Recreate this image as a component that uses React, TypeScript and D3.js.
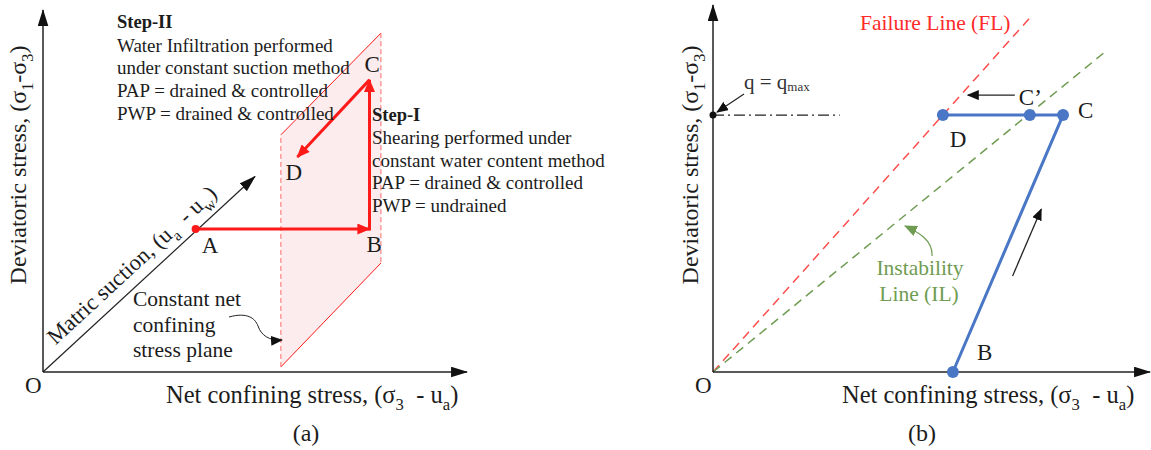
import React from 'react'
import * as d3 from 'd3'

// ---- panel (a): schematic stress path (axis units 0-100) ----
const pathA = [
  { name: 'A', x: 36, y: 39.5 },
  { name: 'B', x: 77, y: 39.5 },
  { name: 'C', x: 77, y: 80.7 },
  { name: 'D', x: 60, y: 59.4 },
]
const suctionAxisEnd = { x: 50, y: 54 }
const planeCorners = [
  { x: 56.1, y: 65.5 },
  { x: 79.7, y: 93.6 },
  { x: 79.7, y: 30.1 },
  { x: 56.1, y: 1.4 },
]
const stepII = ['Water Infiltration performed', 'under constant suction method', 'PAP = drained & controlled', 'PWP = drained & controlled']
const stepI = ['Shearing performed under', 'constant water content method', 'PAP = drained & controlled', 'PWP = undrained']
const planeNote = ['Constant net', 'confining', 'stress plane']

// ---- panel (b): failure / instability lines ----
const failureLineEnd = { x: 72.5, y: 96.5 }
const instabilityLineEnd = { x: 89.7, y: 87.2 }
const qMax = 70
const qMaxLineEnd = 29
const pathB = [
  { name: 'B', x: 54.9, y: 0 },
  { name: 'C', x: 80.1, y: 70 },
  { name: 'C’', x: 72.5, y: 70 },
  { name: 'D', x: 52.6, y: 70 },
]

// label pieces: [text, isSubscript]
const yLabel: [string, boolean][] = [['Deviatoric stress, (σ', false], ['1', true], ['-σ', false], ['3', true], [')', false]]
const xLabel: [string, boolean][] = [['Net confining stress, (σ', false], ['3', true], ['\u00a0 - u', false], ['a', true], [')', false]]
const suctionLabel: [string, boolean][] = [['Matric suction, (u', false], ['a', true], ['\u00a0 - u', false], ['w', true], [')', false]]

const FONT = '"Liberation Serif", "DejaVu Serif", serif'
const INK = '#1c1c1c'
const RED = '#ff1a1a'
const BLUE = '#4a76c6'
const GREEN = '#6f9c52'

const rich = (segs: [string, boolean][], size: number) => {
  const shift = size * 0.28
  let prev = false
  return segs.map(([t, sub], i) => {
    const dy = (sub ? shift : 0) - (prev ? shift : 0)
    prev = sub
    return (
      <tspan key={i} dy={dy} fontSize={sub ? size * 0.68 : size}>
        {t}
      </tspan>
    )
  })
}

export default function App() {
  const xa = d3.scaleLinear().domain([0, 100]).range([43, 467])
  const ya = d3.scaleLinear().domain([0, 100]).range([372, 10])
  const xb = d3.scaleLinear().domain([0, 100]).range([713, 1150])
  const yb = d3.scaleLinear().domain([0, 100]).range([372, 5])

  const [A, B, C, D] = pathA
  const plane = d3.line<{ x: number; y: number }>().x((d) => xa(d.x)).y((d) => ya(d.y))
  const diagAngle = (Math.atan2(ya(0) - ya(suctionAxisEnd.y), xa(suctionAxisEnd.x) - xa(0)) * 180) / Math.PI

  const [pB, pC, pC2, pD] = pathB
  const blueLine = d3.line<{ x: number; y: number }>().x((d) => xb(d.x)).y((d) => yb(d.y))

  // arrow drawn parallel to B-C, offset to the right
  const bx = xb(pB.x), by = yb(pB.y), cx = xb(pC.x), cy = yb(pC.y)
  const len = Math.hypot(cx - bx, cy - by)
  const ux = (cx - bx) / len, uy = (cy - by) / len
  const nx = -uy, ny = ux
  const off = 17
  const ar1 = { x: bx + ux * len * 0.4 + nx * off, y: by + uy * len * 0.4 + ny * off }
  const ar2 = { x: bx + ux * len * 0.66 + nx * off, y: by + uy * len * 0.66 + ny * off }

  const sAxis = 24
  const sX = 24.5
  const sPt = 23
  return (
    <svg width={1151} height={450} style={{ position: 'absolute', left: 0, top: 0, background: '#fff' }} fontFamily={FONT}>
      <defs>
        <marker id="axisHead" viewBox="0 0 16 10" refX={15} refY={5} markerWidth={17} markerHeight={11} orient="auto" markerUnits="userSpaceOnUse">
          <path d="M0,0 L16,5 L0,10 z" fill="#111" />
        </marker>
        <marker id="smallHead" viewBox="0 0 12 10" refX={11} refY={5} markerWidth={12} markerHeight={10} orient="auto" markerUnits="userSpaceOnUse">
          <path d="M0,0 L12,5 L0,10 z" fill="#111" />
        </marker>
        <marker id="redHead" viewBox="0 0 12 10" refX={11} refY={5} markerWidth={14} markerHeight={11} orient="auto" markerUnits="userSpaceOnUse">
          <path d="M0,0 L12,5 L0,10 z" fill={RED} />
        </marker>
        <marker id="greenHead" viewBox="0 0 12 10" refX={11} refY={5} markerWidth={13} markerHeight={11} orient="auto" markerUnits="userSpaceOnUse">
          <path d="M0,0 L12,5 L0,10 z" fill={GREEN} />
        </marker>
      </defs>

      {/* ================= panel (a) ================= */}
      <path d={plane(planeCorners) + 'Z'} fill="#fdeced" stroke="none" />
      <line x1={xa(planeCorners[0].x)} y1={ya(planeCorners[0].y)} x2={xa(planeCorners[1].x)} y2={ya(planeCorners[1].y)} stroke={RED} strokeWidth={1} />
      <line x1={xa(planeCorners[2].x)} y1={ya(planeCorners[2].y)} x2={xa(planeCorners[3].x)} y2={ya(planeCorners[3].y)} stroke={RED} strokeWidth={1} />
      <line x1={xa(planeCorners[1].x)} y1={ya(planeCorners[1].y)} x2={xa(planeCorners[2].x)} y2={ya(planeCorners[2].y)} stroke="#ff6b6b" strokeWidth={1} strokeDasharray="5,3" />
      <line x1={xa(planeCorners[3].x)} y1={ya(planeCorners[3].y)} x2={xa(planeCorners[0].x)} y2={ya(planeCorners[0].y)} stroke="#ff6b6b" strokeWidth={1} strokeDasharray="5,3" />

      {/* axes */}
      <line x1={xa(0)} y1={ya(0)} x2={xa(0)} y2={ya(100)} stroke="#222" strokeWidth={1.5} markerEnd="url(#axisHead)" />
      <line x1={xa(0)} y1={ya(0)} x2={xa(100)} y2={ya(0)} stroke="#222" strokeWidth={1.5} markerEnd="url(#axisHead)" />
      <line x1={xa(0)} y1={ya(0)} x2={xa(suctionAxisEnd.x)} y2={ya(suctionAxisEnd.y)} stroke="#222" strokeWidth={1.2} markerEnd="url(#axisHead)" />

      {/* stress path */}
      <line x1={xa(A.x)} y1={ya(A.y)} x2={xa(B.x)} y2={ya(B.y)} stroke={RED} strokeWidth={3} markerEnd="url(#redHead)" />
      <line x1={xa(B.x)} y1={ya(B.y) + 1.5} x2={xa(C.x)} y2={ya(C.y)} stroke={RED} strokeWidth={3} markerEnd="url(#redHead)" />
      <line x1={xa(C.x)} y1={ya(C.y)} x2={xa(D.x)} y2={ya(D.y)} stroke={RED} strokeWidth={3} markerEnd="url(#redHead)" />
      <circle cx={xa(A.x)} cy={ya(A.y)} r={4} fill={RED} />

      <g fontSize={sPt} fill={INK}>
        <text x={xa(A.x) + 6} y={ya(A.y) + 24}>A</text>
        <text x={xa(B.x) - 3} y={ya(B.y) + 23}>B</text>
        <text x={xa(C.x) - 5} y={ya(C.y) - 8}>C</text>
        <text x={xa(D.x) - 12} y={ya(D.y) + 23}>D</text>
        <text x={25} y={393}>O</text>
      </g>

      <text transform={`translate(${xa(0)},${ya(0)}) rotate(${-diagAngle}) translate(27,-11)`} fontSize={22.5} fill={INK}>
        {rich(suctionLabel, 22.5)}
      </text>

      <g fontSize={19} fill={INK}>
        <text x={117} y={28} fontSize={18.5} fontWeight="bold">Step-II</text>
        {stepII.map((s, i) => (
          <text key={s} x={117} y={51.5 + i * 22.7}>{s}</text>
        ))}
        <text x={372} y={121} fontSize={18.5} fontWeight="bold">Step-I</text>
        {stepI.map((s, i) => (
          <text key={s} x={372} y={144 + i * 22.7}>{s}</text>
        ))}
      </g>
      <g fontSize={21.5} fill={INK}>
        {planeNote.map((s, i) => (
          <text key={s} x={133} y={306 + i * 25.5}>{s}</text>
        ))}
      </g>
      <path d="M229,317 C247,312 255,318 258,326 C261,335 269,341 282,340" fill="none" stroke="#222" strokeWidth={1} markerEnd="url(#smallHead)" />

      <text transform="translate(26,165) rotate(-90)" textAnchor="middle" fontSize={sAxis} fill={INK}>
        {rich(yLabel, sAxis)}
      </text>
      <text x={166} y={403} fontSize={sX} fill={INK}>
        {rich(xLabel, sX)}
      </text>
      <text x={306} y={441} textAnchor="middle" fontSize={sAxis} fill={INK}>(a)</text>

      {/* ================= panel (b) ================= */}
      <line x1={xb(0)} y1={yb(0)} x2={xb(failureLineEnd.x)} y2={yb(failureLineEnd.y)} stroke="#ff4d4d" strokeWidth={1.5} strokeDasharray="9,6" />
      <line x1={xb(0)} y1={yb(0)} x2={xb(instabilityLineEnd.x)} y2={yb(instabilityLineEnd.y)} stroke={GREEN} strokeWidth={1.5} strokeDasharray="9,6" />

      <line x1={xb(0)} y1={yb(0)} x2={xb(0)} y2={yb(100)} stroke="#222" strokeWidth={1.5} markerEnd="url(#axisHead)" />
      <line x1={xb(0)} y1={yb(0)} x2={xb(100)} y2={yb(0)} stroke="#222" strokeWidth={1.5} markerEnd="url(#axisHead)" />

      <line x1={xb(0)} y1={yb(qMax)} x2={xb(qMaxLineEnd)} y2={yb(qMax)} stroke="#222" strokeWidth={1.2} strokeDasharray="11,4,2,4" />
      <circle cx={xb(0)} cy={yb(qMax)} r={3.5} fill="#111" />
      <line x1={744} y1={94} x2={xb(0) + 4} y2={yb(qMax) - 3} stroke="#222" strokeWidth={1.2} markerEnd="url(#smallHead)" />
      <text x={744} y={89} fontSize={21} fill="#333">
        q = q<tspan fontSize={13} dy={2}>max</tspan>
      </text>

      <path d={blueLine([pB, pC, pD]) ?? ''} fill="none" stroke={BLUE} strokeWidth={3} strokeLinejoin="round" />
      {pathB.map((p) => (
        <circle key={p.name} cx={xb(p.x)} cy={yb(p.y)} r={6} fill={BLUE} />
      ))}
      <line x1={ar1.x} y1={ar1.y} x2={ar2.x} y2={ar2.y} stroke="#222" strokeWidth={1.3} markerEnd="url(#smallHead)" />
      <line x1={xb(pC2.x) - 15} y1={yb(qMax) - 20} x2={xb(pC2.x) - 62} y2={yb(qMax) - 20} stroke="#222" strokeWidth={1.3} markerEnd="url(#smallHead)" />

      <g fontSize={sPt} fill={INK}>
        <text x={xb(pC.x) + 15} y={yb(pC.y) + 3}>C</text>
        <text x={xb(pC2.x) - 11} y={yb(pC2.y) - 10}>{pC2.name}</text>
        <text x={xb(pD.x) + 7} y={yb(pD.y) + 32}>D</text>
        <text x={xb(pB.x) + 24} y={yb(pB.y) - 12}>B</text>
        <text x={695} y={393}>O</text>
      </g>

      <text x={860} y={30} fontSize={21.5} fill="#ff2a2a">Failure Line (FL)</text>
      <g fontSize={21.5} fill={GREEN} textAnchor="middle">
        <text x={920} y={275}>Instability</text>
        <text x={919} y={301}>Line (IL)</text>
      </g>
      <path d="M932,256 C933,240 918,232 905,226" fill="none" stroke={GREEN} strokeWidth={1.2} markerEnd="url(#greenHead)" />

      <text transform="translate(698,165) rotate(-90)" textAnchor="middle" fontSize={sAxis} fill={INK}>
        {rich(yLabel, sAxis)}
      </text>
      <text x={842} y={403} fontSize={sX} fill={INK}>
        {rich(xLabel, sX)}
      </text>
      <text x={922} y={441} textAnchor="middle" fontSize={sAxis} fill={INK}>(b)</text>
    </svg>
  )
}
